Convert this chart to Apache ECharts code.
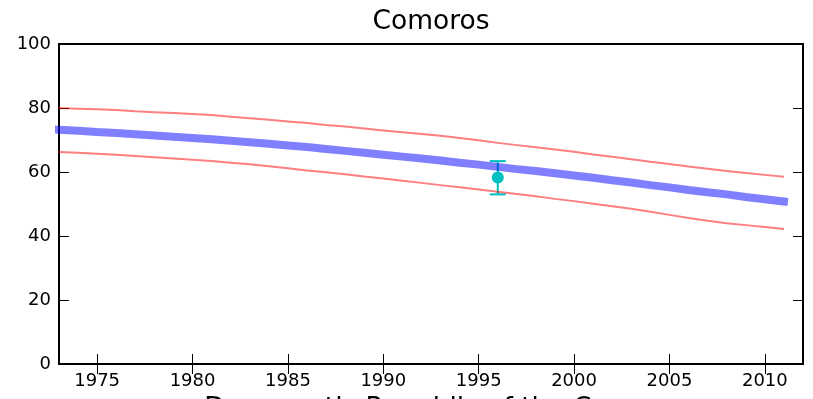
<!DOCTYPE html>
<html>
<head>
<meta charset="utf-8">
<script src="https://cdn.jsdelivr.net/npm/echarts@6/dist/echarts.min.js"></script>
<style>html,body{margin:0;padding:0;background:#fff;}#c{width:813px;height:399px;}</style>
</head>
<body>
<div id="c"></div>
<script>
const years = [1970,1971,1972,1973,1974,1975,1976,1977,1978,1979,1980,1981,1982,1983,1984,1985,1986,1987,1988,1989,1990,1991,1992,1993,1994,1995,1996,1997,1998,1999,2000,2001,2002,2003,2004,2005,2006,2007,2008,2009,2010,2011];
const meanValues = [74.1,73.8,73.5,73.2,72.9,72.5,72.2,71.8,71.4,71.0,70.6,70.2,69.8,69.3,68.8,68.3,67.8,67.2,66.6,66.0,65.4,64.8,64.2,63.6,62.9,62.3,61.6,60.9,60.3,59.6,58.9,58.2,57.4,56.7,55.9,55.2,54.4,53.7,53.0,52.2,51.5,50.8];
const upperValues = [80.8,80.5,80.3,80.0,79.8,79.6,79.4,79.0,78.7,78.4,78.1,77.8,77.3,76.8,76.3,75.8,75.3,74.7,74.2,73.6,73.0,72.4,71.9,71.3,70.6,69.9,69.1,68.4,67.7,67.0,66.3,65.5,64.8,64.0,63.2,62.5,61.7,61.0,60.3,59.7,59.1,58.5];
const lowerValues = [67.0,66.7,66.5,66.25,66.0,65.7,65.4,65.0,64.6,64.2,63.8,63.4,62.9,62.4,61.8,61.2,60.5,59.9,59.3,58.6,58.0,57.3,56.6,55.9,55.2,54.5,53.8,53.1,52.4,51.6,50.9,50.1,49.3,48.5,47.6,46.6,45.6,44.8,44.0,43.4,42.8,42.2];
const pointYears = [1996];
const pointValues = [58.3];
const pointLows = [53.0];
const pointHighs = [63.4];
const xTicks = [1975,1980,1985,1990,1995,2000,2005,2010];
const titleText = 'Comoros';
const nextTitleText = 'Democratic Republic of the Congo';

const zip = (a, b) => a.map((v, i) => [v, b[i]]);
const font = 'DejaVu Sans';

const chart = echarts.init(document.getElementById('c'), null, {renderer: 'canvas'});
const xBase = {
  type: 'value', min: 1973, max: 2012,
  splitLine: {show: false},
  axisLine: {show: false},
  axisTick: {show: true, inside: true, length: 10, customValues: xTicks, lineStyle: {color: '#000', width: 1}}
};
const yBase = {
  type: 'value', min: 0, max: 100, interval: 20,
  splitLine: {show: false},
  axisLine: {show: false},
  axisTick: {show: true, inside: true, length: 10, lineStyle: {color: '#000', width: 1}}
};
chart.setOption({
  animation: false,
  backgroundColor: '#fff',
  grid: {left: 59, right: 10, top: 44, bottom: 35, show: true, borderColor: '#000', borderWidth: 2, backgroundColor: 'transparent'},
  xAxis: [
    Object.assign({}, xBase, {position: 'bottom', axisLabel: {show: true, customValues: xTicks, margin: 8, color: '#000', fontFamily: font, fontSize: 18, formatter: v => String(v)}}),
    Object.assign({}, xBase, {position: 'top', axisLabel: {show: false}})
  ],
  yAxis: [
    Object.assign({}, yBase, {position: 'left', axisLabel: {show: true, margin: 8, color: '#000', fontFamily: font, fontSize: 18, formatter: v => String(v)}}),
    Object.assign({}, yBase, {position: 'right', axisLabel: {show: false}})
  ],
  graphic: [
    {type: 'text', x: 431, y: 22.5, style: {text: titleText, font: '26.5px "DejaVu Sans"', fill: '#000', align: 'center', verticalAlign: 'middle'}},
    {type: 'text', x: 431, y: 409.5, style: {text: nextTitleText, font: '26.5px "DejaVu Sans"', fill: '#000', align: 'center', verticalAlign: 'middle'}}
  ],
  series: [
    {
      type: 'custom', z: 1,
      data: pointYears.map((y, i) => [y, pointLows[i], pointHighs[i]]),
      renderItem: function (params, api) {
        const lo = api.coord([api.value(0), api.value(1)]);
        const hi = api.coord([api.value(0), api.value(2)]);
        const hw = 8;
        const st = {stroke: '#00bfbf', lineWidth: 2};
        return {type: 'group', children: [
          {type: 'line', shape: {x1: lo[0], y1: lo[1], x2: hi[0], y2: hi[1]}, style: st},
          {type: 'line', shape: {x1: lo[0] - hw, y1: lo[1], x2: lo[0] + hw, y2: lo[1]}, style: st},
          {type: 'line', shape: {x1: hi[0] - hw, y1: hi[1], x2: hi[0] + hw, y2: hi[1]}, style: st}
        ]};
      }
    },
    {type: 'line', z: 2, data: zip(years, upperValues), symbol: 'none', lineStyle: {color: '#ff0000', opacity: 0.5, width: 2}},
    {type: 'line', z: 2, data: zip(years, lowerValues), symbol: 'none', lineStyle: {color: '#ff0000', opacity: 0.5, width: 2}},
    {type: 'line', z: 3, data: zip(years, meanValues), symbol: 'none', lineStyle: {color: '#0000ff', opacity: 0.5, width: 8, cap: 'square'}},
    {type: 'scatter', z: 4, data: zip(pointYears, pointValues), symbol: 'circle', symbolSize: 12, itemStyle: {color: '#00bfbf', opacity: 1}}
  ]
});
</script>
</body>
</html>
